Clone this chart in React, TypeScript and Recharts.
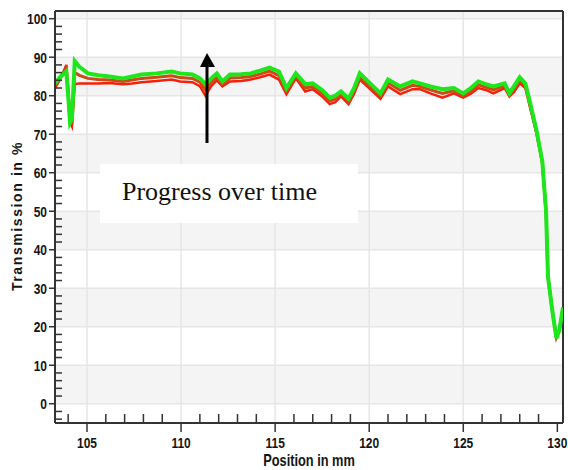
import React from 'react';
import {
  LineChart,
  Line,
  XAxis,
  YAxis,
  ReferenceArea,
  ReferenceLine
} from 'recharts';

// Scan position along the sample (mm)
const positionMm = [
  103.3, 103.6, 103.9, 104.0, 104.1, 104.2, 104.35, 104.6, 105.05, 105.6,
  106.2, 106.9, 107.4, 107.9, 108.7, 109.5, 109.95, 110.6, 111.0, 111.3,
  111.6, 111.9, 112.2, 112.6, 113.2, 113.7, 114.2, 114.7, 115.2, 115.6,
  116.1, 116.6, 117.0, 117.5, 117.9, 118.2, 118.5, 118.9, 119.2, 119.5,
  120.05, 120.6, 121.0, 121.65, 122.3, 122.7, 123.25, 123.9, 124.5, 125.0,
  125.4, 125.8, 126.2, 126.6, 127.2, 127.45, 127.7, 128.0, 128.3, 128.57,
  128.9, 129.2, 129.4, 129.5, 129.75, 129.95, 130.1, 130.3
];

// Transmission (%) of the first scan
const earlyScan = [
  82, 84.5, 88, 82, 73, 72, 83, 83.2, 83.2, 83.2,
  83.3, 83, 83.2, 83.5, 83.8, 84.2, 83.7, 83.5, 82.5, 80,
  82.5, 84, 82.4, 83.7, 83.8, 84.2, 84.8, 85.5, 84.2, 80.4,
  84.5, 81.1, 81.7, 79.8, 77.8, 78.3, 79.8, 77.8, 80.5, 84.2,
  81.7, 79.2, 82.4, 80.4, 81.7, 81.7, 80.6, 79.5, 80.6, 79.5,
  80.5, 82, 81.5, 80.6, 82, 79.8, 81, 83.2, 82, 76.5,
  70, 62.5, 49.5, 33, 23.5, 17.5, 19, 25
];

// Transmission (%) of an intermediate scan
const midScan = [
  82.6, 84.8, 87, 81, 73, 73, 86, 85.3, 84.5, 84.2,
  84.1, 83.7, 84.1, 84.5, 84.8, 85.2, 84.7, 84.5, 83.5, 81.5,
  83.5, 84.9, 83, 84.6, 84.7, 85, 85.6, 86.4, 85.2, 81.2,
  85.1, 82, 82.4, 80.6, 78.6, 79.1, 80.4, 78.5, 81.2, 85,
  82.4, 79.9, 83.3, 81.4, 82.7, 82.4, 81.5, 80.6, 81.3, 80,
  81.2, 82.8, 82.2, 81.5, 82.6, 80.2, 81.7, 84, 82.6, 77.1,
  70.4, 62.7, 49.7, 33, 23.5, 17.2, 19, 25
];

// Transmission (%) of the latest scan
const lateScan = [
  83.2, 85, 86.3, 80, 73, 74, 89, 87.5, 85.8, 85.3,
  85, 84.5, 85, 85.5, 85.8, 86.3, 85.8, 85.5, 84.5, 83,
  84.5, 85.8, 83.7, 85.5, 85.6, 85.8, 86.5, 87.3, 86.3, 82,
  85.8, 83, 83.2, 81.5, 79.5, 80, 81.1, 79.2, 82, 85.8,
  83.2, 80.6, 84.2, 82.4, 83.7, 83.2, 82.4, 81.7, 82, 80.6,
  82, 83.7, 83, 82.4, 83.2, 80.6, 82.5, 84.8, 83.2, 77.8,
  70.8, 63, 50, 33, 23.5, 17, 19, 25
];

const xTicks = [104, 105, 106, 107, 108, 109, 110, 111, 112, 113, 114, 115, 116, 117,
  118, 119, 120, 121, 122, 123, 124, 125, 126, 127, 128, 129, 130];
const yTicks = [-4, -2, 0, 2, 4, 6, 8, 10, 12, 14, 16, 18, 20, 22, 24, 26, 28, 30, 32, 34,
  36, 38, 40, 42, 44, 46, 48, 50, 52, 54, 56, 58, 60, 62, 64, 66, 68, 70, 72, 74, 76, 78,
  80, 82, 84, 86, 88, 90, 92, 94, 96, 98, 100];
const xGrid = [105, 110, 115, 120, 125];
const yGrid = [0, 10, 20, 30, 40, 50, 60, 70, 80, 90, 100];
const shadedBands = [[0, 10], [20, 30], [40, 50], [60, 70], [80, 90], [100, 102]];

const X_MIN = 103.3;
const X_MAX = 130.3;
const Y_MIN = -5;
const Y_MAX = 102;

const AXIS = '#333';
const NARROW = 0.8; // horizontal squeeze to get a narrow bold face
const tickFont = {
  fontFamily: '"Liberation Sans", Arial, sans-serif',
  fontWeight: 'bold' as const,
  fontSize: 15,
  fill: '#141414'
};

const XTick = ({ x, y, payload }: any) => {
  const v = payload.value;
  if (v % 5 === 0) {
    return (
      <g>
        <line x1={x} x2={x} y1={y} y2={y + 9} stroke={AXIS} strokeWidth={1.5} />
        <text transform={`translate(${x} ${y + 25}) scale(${NARROW} 1)`} textAnchor="middle" {...tickFont}>{v}</text>
      </g>
    );
  }
  return <line x1={x} x2={x} y1={y} y2={y - 9} stroke={AXIS} strokeWidth={1.5} />;
};

const YTick = ({ x, y, payload }: any) => {
  const v = payload.value;
  if (v % 10 === 0) {
    return (
      <g>
        <line x1={x - 6} x2={x} y1={y} y2={y} stroke={AXIS} strokeWidth={1.5} />
        <text transform={`translate(${x - 8} ${y + 5.5}) scale(${NARROW} 1)`} textAnchor="end" {...tickFont}>{v}</text>
      </g>
    );
  }
  return <line x1={x} x2={x + 7} y1={y} y2={y} stroke={AXIS} strokeWidth={1.5} />;
};

export default function App() {
  const data = positionMm.map((pos, i) => ({
    pos,
    early: earlyScan[i],
    mid: midScan[i],
    late: lateScan[i]
  }));

  return (
    <div style={{ position: 'absolute', left: 0, top: 0, width: 568, height: 470, background: '#fff' }}>
      <LineChart width={568} height={470} data={data} margin={{ top: 11, right: 5, bottom: 0, left: 0 }}>
        <XAxis
          dataKey="pos"
          type="number"
          domain={[X_MIN, X_MAX]}
          ticks={xTicks}
          interval={0}
          tick={<XTick />}
          tickLine={false}
          tickSize={0}
          tickMargin={0}
          height={47}
          axisLine={{ stroke: AXIS, strokeWidth: 2 }}
          allowDataOverflow
        />
        <YAxis
          type="number"
          domain={[Y_MIN, Y_MAX]}
          ticks={yTicks}
          interval={0}
          tick={<YTick />}
          tickLine={false}
          tickSize={0}
          tickMargin={0}
          width={55}
          axisLine={{ stroke: AXIS, strokeWidth: 2 }}
          allowDataOverflow
        />
        {shadedBands.map(([a, b]) => (
          <ReferenceArea key={`band-${a}`} y1={a} y2={b} fill="#f4f4f4" fillOpacity={1} stroke="none" />
        ))}
        {yGrid.map(v => (
          <ReferenceLine key={`gy-${v}`} y={v} stroke="#e6e6e6" strokeWidth={1.5} />
        ))}
        {xGrid.map(v => (
          <ReferenceLine key={`gx-${v}`} x={v} stroke="#e6e6e6" strokeWidth={1.5} />
        ))}
        <ReferenceLine y={Y_MAX} stroke={AXIS} strokeWidth={2} />
        <ReferenceLine x={X_MAX} stroke={AXIS} strokeWidth={2} />
        <Line dataKey="early" stroke="#f5200c" strokeWidth={2.5} dot={false} isAnimationActive={false} />
        <Line dataKey="mid" stroke="#cc4a14" strokeWidth={3} dot={false} isAnimationActive={false} />
        <Line dataKey="late" stroke="#1de61d" strokeWidth={4} dot={false} isAnimationActive={false} />
      </LineChart>

      <svg width={568} height={470} style={{ position: 'absolute', left: 0, top: 0, pointerEvents: 'none' }}>
        <text
          x={17}
          y={216}
          transform="rotate(-90 17 216)"
          textAnchor="middle"
          dominantBaseline="central"
          fontFamily='"Liberation Sans", Arial, sans-serif'
          fontWeight="bold"
          fontSize={14}
          letterSpacing={1.6}
          fill="#141414"
        >
          Transmission in %
        </text>
        <text
          transform={`translate(309 466) scale(${NARROW} 1)`}
          textAnchor="middle"
          fontFamily='"Liberation Sans", Arial, sans-serif'
          fontWeight="bold"
          fontSize={16}
          fill="#141414"
        >
          Position in mm
        </text>
        <rect x={100} y={164} width={258} height={59} fill="#fff" />
        <text x={122} y={200} fontFamily='"Liberation Serif", "Times New Roman", serif' fontSize={26} fill="#111">
          Progress over time
        </text>
        <line x1={207} x2={207} y1={143} y2={64} stroke="#000" strokeWidth={3} />
        <polygon points="207,53 200,67 215,67" fill="#000" />
      </svg>
    </div>
  );
}
